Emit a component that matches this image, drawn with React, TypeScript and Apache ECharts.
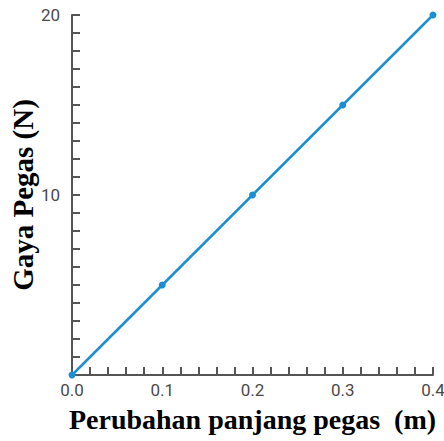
import React, { useEffect, useRef } from "react";
import * as echarts from "echarts";

const xValues = [0, 0.1, 0.2, 0.3, 0.4];
const yValues = [0, 5, 10, 15, 20];
const xName = "Perubahan panjang pegas  (m)";
const yName = "Gaya Pegas (N)";

export default function App() {
  const ref = useRef<HTMLDivElement>(null);
  useEffect(() => {
    if (!ref.current) return;
    const chart = echarts.init(ref.current, null, { renderer: "svg" });
    const axisColor = "#555555";
    const labelFont = "'Liberation Sans Narrow', 'Roboto', sans-serif";
    const nameStyle = {
      fontFamily: "'Liberation Serif', 'Times New Roman', serif",
      fontWeight: "bold" as const,
      color: "#000",
      fontSize: 28,
    };
    chart.setOption({
      animation: false,
      grid: {
        left: 72,
        right: 11,
        top: 15,
        bottom: 66,
        containLabel: false,
        outerBoundsMode: "none",
      },
      xAxis: {
        type: "value",
        min: 0,
        max: 0.4,
        interval: 0.1,
        name: xName,
        nameLocation: "middle",
        nameGap: 30,
        nameTextStyle: nameStyle,
        axisLine: { show: true, lineStyle: { color: axisColor, width: 2 } },
        axisTick: { show: true, inside: true, length: 8, lineStyle: { color: axisColor, width: 2 } },
        minorTick: { show: true, splitNumber: 5, length: 8, lineStyle: { color: axisColor, width: 2 } },
        splitLine: { show: false },
        axisLabel: {
          color: "#4a4a4a",
          fontFamily: labelFont,
          fontSize: 17,
          margin: 6,
          formatter: (v: number) => v.toFixed(1),
        },
      },
      yAxis: {
        type: "value",
        min: 0,
        max: 20,
        interval: 10,
        name: yName,
        nameLocation: "middle",
        nameGap: 35,
        nameMoveOverlap: false,
        nameTextStyle: { ...nameStyle, fontSize: 29 },
        axisLine: { show: true, lineStyle: { color: axisColor, width: 2 } },
        axisTick: { show: true, inside: true, length: 8, lineStyle: { color: axisColor, width: 2 } },
        minorTick: { show: true, splitNumber: 10, length: 8, lineStyle: { color: axisColor, width: 2 } },
        splitLine: { show: false },
        axisLabel: {
          color: "#4a4a4a",
          fontFamily: labelFont,
          fontSize: 17,
          margin: 12,
          formatter: (v: number) => (v === 0 ? "" : String(v)),
        },
      },
      series: [
        {
          type: "line",
          data: xValues.map((x, i) => [x, yValues[i]]),
          symbol: "circle",
          symbolSize: 7,
          showSymbol: true,
          lineStyle: { color: "#1b8fd2", width: 2.5 },
          itemStyle: { color: "#1b8fd2" },
        },
      ],
    });
    return () => chart.dispose();
  }, []);
  return <div ref={ref} style={{ width: 444, height: 441, position: "absolute", left: 0, top: 0 }} />;
}
